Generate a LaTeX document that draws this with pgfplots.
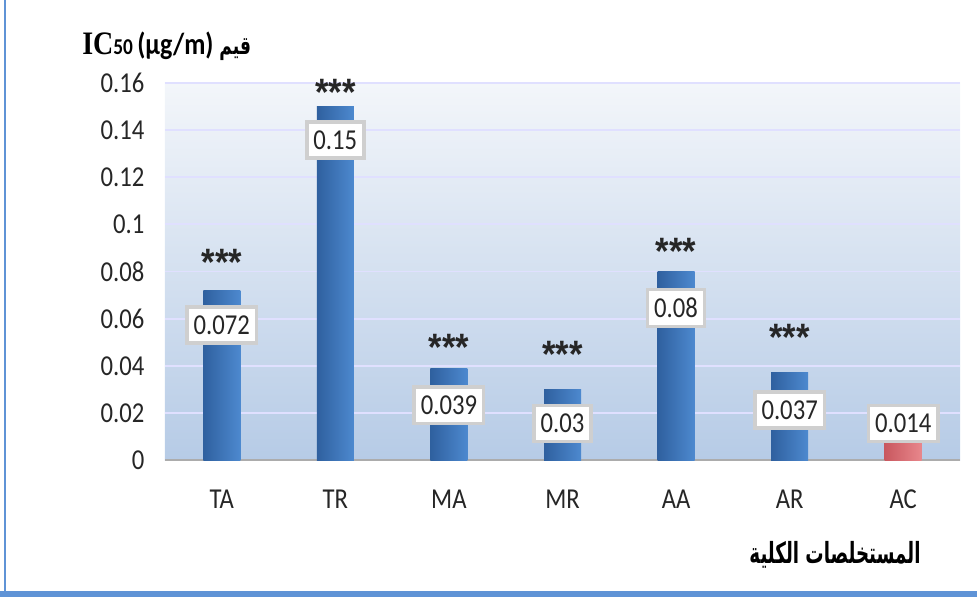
\documentclass[border=0pt]{standalone}
\usepackage{graphicx}
\usepackage{pgfplots}
\pgfplotsset{compat=1.18}
\usepackage{fontspec}
\setmainfont{Carlito}
\newfontfamily\serifbold{Liberation Serif}
\newfontfamily\starfont{Liberation Sans}
\newfontfamily\arabicfont[Script=Arabic]{DejaVu Sans}
\TeXXeTstate=1
\newcommand\vs[1]{\scalebox{1}[1.17]{#1}}
\definecolor{bgtop}{HTML}{F3F6FA}
\definecolor{bgbot}{HTML}{B6CBE6}
\definecolor{barL}{HTML}{2F609F}
\definecolor{barR}{HTML}{4D89CF}
\definecolor{redL}{HTML}{C9585F}
\definecolor{redR}{HTML}{E8878C}
\definecolor{frame}{HTML}{5F93D6}
\definecolor{txt}{HTML}{262626}
\begin{document}
\begin{tikzpicture}[x=0.75pt,y=0.75pt]
\useasboundingbox (-165,-136) rectangle (812,460);
\begin{axis}[
  at={(0,0)}, anchor=south west,
  scale only axis, width=596.25pt, height=282.75pt,
  xmin=-0.5, xmax=6.5, ymin=0, ymax=0.16,
  xtick={0,...,6}, xticklabels={\vs{TA},\vs{TR},\vs{MA},\vs{MR},\vs{AA},\vs{AR},\vs{AC}},
  ytick={0,0.02,0.04,0.06,0.08,0.1,0.12,0.14,0.16},
  yticklabels={\vs{0},\vs{0.02},\vs{0.04},\vs{0.06},\vs{0.08},\vs{0.1},\vs{0.12},\vs{0.14},\vs{0.16}},
  major tick length=0pt,
  tick label style={font=\fontsize{18.5}{22}\selectfont, text=txt},
  xticklabel style={yshift=-19pt},
  yticklabel style={xshift=-12pt},
  axis x line*=bottom, axis y line*=left,
  x axis line style={draw=gray!65, line width=2.2pt, -},
  y axis line style={draw=none},
  ymajorgrids, major grid style={draw=white!88!blue, line width=1.4pt},
  axis background/.style={top color=bgtop, bottom color=bgbot},
  clip=false,
  every axis plot/.append style={ybar, bar width=27.75pt, bar shift=0pt, draw=none},
]
\addplot[left color=barL, right color=barR] coordinates {(0,0.072)};
\addplot[left color=barL, right color=barR] coordinates {(1,0.15)};
\addplot[left color=barL, right color=barR] coordinates {(2,0.039)};
\addplot[left color=barL, right color=barR] coordinates {(3,0.03)};
\addplot[left color=barL, right color=barR] coordinates {(4,0.08)};
\addplot[left color=barL, right color=barR] coordinates {(5,0.037)};
\addplot[left color=redL, right color=redR] coordinates {(6,0.014)};
% value labels
\addplot[only marks, mark=none, point meta=explicit symbolic, nodes near coords={\vs{\pgfplotspointmeta}},
  every node near coord/.style={anchor=center, fill=white, draw=gray!38, line width=2.6pt,
    inner xsep=5pt, inner ysep=6.5pt, font=\fontsize{18.5}{22}\selectfont, text=txt}]
  table[meta=lab] {
x y lab
0 0.0573 0.072
1 0.1358 0.15
2 0.0233 0.039
3 0.0155 0.03
4 0.0645 0.08
5 0.0212 0.037
6 0.0155 0.014
};
% significance stars
\addplot[only marks, mark=none, nodes near coords={\scalebox{1}[1.1]{***}},
  every node near coord/.style={anchor=center, yshift=-3pt, inner sep=0pt, font=\fontsize{26}{28}\selectfont\starfont\bfseries, text=txt}]
  table {
x y
0 0.0857
1 0.1579
2 0.0497
3 0.0467
4 0.0904
5 0.0539
};
\end{axis}
% titles
\node[anchor=base west, text=black, inner sep=0pt] at (-83,405)
  {\vs{\fontsize{21}{24}\selectfont\serifbold\bfseries IC\fontsize{14.5}{16}\selectfont\rmfamily\bfseries 50 \fontsize{19.5}{24}\selectfont(µg/m) \scalebox{0.8}[1]{\arabicfont\bfseries\fontsize{16}{20}\selectfont\beginR قيم\endR}}};
\node[text=black, inner sep=0pt] at (670,-95)
  {\scalebox{0.72}[1.15]{\fontsize{19}{24}\selectfont\arabicfont\bfseries\beginR المستخلصات الكلية\endR}};
% frame
\draw[frame, line width=1.5pt] (-160,460) -- (-160,-133);
\draw[frame, line width=4pt] (-165,-134) -- (812,-134);
\end{tikzpicture}
\end{document}
